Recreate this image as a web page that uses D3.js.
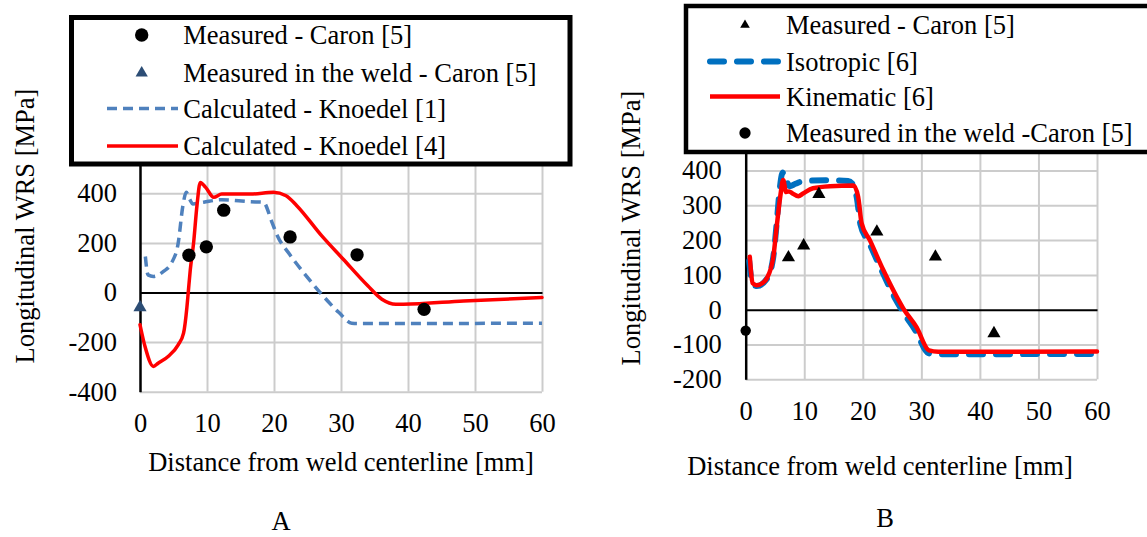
<!DOCTYPE html>
<html>
<head>
<meta charset="utf-8">
<script src="https://cdn.jsdelivr.net/npm/d3@7"></script>
<style>
  body { margin: 0; background: #fff; }
  svg text { font-family: "Liberation Serif", "Times New Roman", serif; fill: #000; }
</style>
</head>
<body>
<svg id="chart" width="1147" height="537"></svg>
<script>
// ---- data (mm, MPa) ----
const distTicks = [0, 10, 20, 30, 40, 50, 60];
const leftStressTicks = [-400, -200, 0, 200, 400];
const rightStressTicks = [-200, -100, 0, 100, 200, 300, 400];

const caronDist = [7.3, 9.9, 12.5, 22.4, 32.4, 42.4];
const caronStress = [150, 184, 332, 224, 152, -68];

const weldDist = [0];
const weldStress = [-60];

// panel A
const knoedel1Dist = [0.8, 1.2, 2.0, 3.5, 4.7, 5.7, 6.4, 6.9, 7.4, 7.9, 9.5, 12.2, 16.5, 18.4, 19.7, 20.5, 22.3, 24.4, 27.1, 29.7, 31.6, 32.4, 60];
const knoedel1Stress = [145, 71, 65, 85, 119, 199, 350, 404, 377, 357, 364, 374, 366, 364, 283, 229, 155, 81, -7, -81, -124, -125, -124];

const knoedel4Dist = [0, 0.75, 2.0, 2.7, 4.2, 5.7, 6.5, 7.0, 7.2, 7.5, 8.0, 8.5, 9.0, 9.8, 11.0, 12.2, 16.5, 19.9, 21.8, 23.4, 27.1, 30.3, 34.0, 36.1, 38.2, 39.3, 48.3, 60];
const knoedel4Stress = [-130, -218, -298, -285, -258, -211, -164, -60, 0, 90, 200, 350, 444, 424, 384, 397, 397, 404, 390, 350, 229, 135, 27, -27, -47, -47, -34, -20];

// panel B
const isoDist = [0.6, 1.2, 1.9, 3.6, 4.7, 5.3, 5.8, 6.2, 6.5, 7.0, 7.5, 8.5, 10, 14, 17.5, 18.4, 19.0, 19.6, 21.0, 23.3, 25.6, 27.0, 29.0, 31.2, 32.5, 60];
const isoStress = [140, 72, 68, 88, 150, 250, 345, 390, 395, 370, 355, 362, 370, 372, 370, 358, 320, 245, 195, 110, 30, -10, -60, -125, -128, -127];

const kinDist = [0.7, 0.9, 1.2, 1.9, 3.0, 3.6, 4.7, 5.3, 5.9, 6.4, 6.9, 7.4, 8.0, 9.0, 9.8, 11.5, 14.4, 18.4, 19.2, 19.8, 21.2, 23.5, 25.8, 26.9, 29.2, 31.3, 32.9, 60];
const kinStress = [152, 110, 76, 70, 78, 90, 150, 240, 325, 373, 338, 340, 334, 326, 334, 349, 355, 357, 325, 248, 200, 114, 37, 4, -51, -117, -121, -120];

const leftLegend = ["Measured - Caron [5]", "Measured in the weld - Caron [5]", "Calculated - Knoedel [1]", "Calculated - Knoedel [4]"];
const rightLegend = ["Measured - Caron [5]", "Isotropic [6]", "Kinematic [6]", "Measured in the weld -Caron [5]"];

const xTitle = "Distance from weld centerline [mm]";
const yTitle = "Longitudinal WRS [MPa]";

// ---- drawing ----
const svg = d3.select("#chart");
const fs = 26.5;
const serif = "Liberation Serif, Times New Roman, serif";
const gridColor = "#cccccc";
const plain = d => `${d}`; // keep hyphen-minus like the original

function drawFrame(o) {
  const g = svg.append("g");
  const [x0, x1] = o.x.range();
  const [yb, yt] = o.y.range();

  // grid
  g.append("g")
    .attr("transform", `translate(0,${yb})`)
    .call(d3.axisBottom(o.x).tickValues(distTicks.filter(d => d !== 0)).tickSize(-(yb - yt)).tickFormat(""))
    .call(s => s.select(".domain").remove())
    .selectAll("line").attr("stroke", gridColor).attr("stroke-width", 2);
  g.append("g")
    .attr("transform", `translate(${x0},0)`)
    .call(d3.axisLeft(o.y).tickValues(o.yTicks.filter(d => d !== 0)).tickSize(-(x1 - x0)).tickFormat(""))
    .call(s => s.select(".domain").remove())
    .selectAll("line").attr("stroke", gridColor).attr("stroke-width", 2);

  // zero line and y axis
  g.append("g")
    .attr("transform", `translate(0,${o.y(0)})`)
    .call(d3.axisBottom(o.x).tickValues([]).tickSizeOuter(0))
    .select(".domain").attr("stroke", "#000").attr("stroke-width", 2);
  g.append("g")
    .attr("transform", `translate(${x0},0)`)
    .call(d3.axisLeft(o.y).tickValues([]).tickSizeOuter(0))
    .select(".domain").attr("stroke", "#000").attr("stroke-width", 2.5);

  // tick labels
  g.append("g")
    .attr("transform", `translate(${x0},0)`)
    .call(d3.axisLeft(o.y).tickValues(o.yTicks).tickFormat(plain).tickSize(0).tickPadding(o.yPad))
    .attr("font-size", fs).attr("font-family", serif)
    .call(s => s.select(".domain").remove());
  g.append("g")
    .attr("transform", `translate(0,${yb})`)
    .call(d3.axisBottom(o.x).tickValues(distTicks).tickFormat(plain).tickSize(0).tickPadding(o.xPad))
    .attr("font-size", fs).attr("font-family", serif)
    .call(s => s.select(".domain").remove());

  // titles
  g.append("text")
    .attr("transform", `translate(${o.yTitle[0]},${o.yTitle[1]}) rotate(-90)`)
    .attr("text-anchor", "middle").attr("dominant-baseline", "central")
    .attr("font-size", fs).text(yTitle);
  g.append("text")
    .attr("x", o.xTitle[0]).attr("y", o.xTitle[1])
    .attr("text-anchor", "middle").attr("dominant-baseline", "central")
    .attr("font-size", fs).text(xTitle);
  g.append("text")
    .attr("x", o.tag[0]).attr("y", o.tag[1])
    .attr("text-anchor", "middle").attr("dominant-baseline", "central")
    .attr("font-size", fs).text(o.tagText);
  return g;
}

function drawLine(o, dist, stress, style) {
  const line = d3.line()
    .x(d => o.x(d[0]))
    .y(d => o.y(d[1]))
    .curve(d3.curveMonotoneX);
  svg.append("path")
    .datum(d3.zip(dist, stress))
    .attr("d", line)
    .attr("fill", "none")
    .attr("stroke", style.color)
    .attr("stroke-width", style.width)
    .attr("stroke-dasharray", style.dash || null)
    .attr("stroke-linecap", style.cap || "butt")
    .attr("stroke-linejoin", "round");
}

function drawPoints(o, dist, stress, style) {
  const sym = d3.symbol().type(style.type).size(style.size);
  svg.append("g")
    .selectAll("path")
    .data(d3.zip(dist, stress))
    .join("path")
    .attr("d", sym)
    .attr("transform", d => `translate(${o.x(d[0])},${o.y(d[1])})`)
    .attr("fill", style.color);
}

function drawLegend(box, rows, labels, styles) {
  const g = svg.append("g");
  g.append("rect")
    .attr("x", box.x).attr("y", box.y).attr("width", box.w).attr("height", box.h)
    .attr("fill", "#fff").attr("stroke", "#000").attr("stroke-width", box.sw);
  labels.forEach((label, i) => {
    const s = styles[i];
    const y = rows.y[i];
    if (s.kind === "line") {
      g.append("line")
        .attr("x1", rows.lx[0]).attr("x2", rows.lx[1]).attr("y1", y).attr("y2", y)
        .attr("stroke", s.color).attr("stroke-width", s.width)
        .attr("stroke-dasharray", s.dash || null)
        .attr("stroke-linecap", s.cap || "butt");
    } else {
      g.append("path")
        .attr("d", d3.symbol().type(s.type).size(s.size))
        .attr("transform", `translate(${rows.mx},${y})`)
        .attr("fill", s.color);
    }
    g.append("text")
      .attr("x", rows.tx).attr("y", y)
      .attr("dominant-baseline", "central")
      .attr("font-size", fs).text(label);
  });
}

// ---- panel A ----
const A = {
  x: d3.scaleLinear([0, 60], [140, 542]),
  y: d3.scaleLinear([-400, 600], [391.7, 143.7]),
  yTicks: leftStressTicks, yPad: 23, xPad: 21,
  yTitle: [25, 226], xTitle: [341, 462], tag: [281, 521], tagText: "A"
};
drawFrame(A);
const styleK1 = { color: "#4f81bd", width: 3.5, dash: "10,6" };
const styleK4 = { color: "#ff0000", width: 3.5, cap: "round" };
const styleCaronA = { type: d3.symbolCircle, size: 140, color: "#000" };
const styleWeldA = { type: d3.symbolTriangle, size: 75, color: "#2c4d75" };
drawLine(A, knoedel1Dist, knoedel1Stress, styleK1);
drawLine(A, knoedel4Dist, knoedel4Stress, styleK4);
drawPoints(A, caronDist, caronStress, styleCaronA);
drawPoints(A, weldDist, weldStress, styleWeldA);
drawLegend(
  { x: 71.5, y: 17.5, w: 498.5, h: 146.5, sw: 5 },
  { y: [35, 73, 108.5, 146], mx: 141.7, lx: [107, 178], tx: 183.3 },
  leftLegend,
  [Object.assign({ kind: "sym" }, styleCaronA), Object.assign({ kind: "sym" }, styleWeldA, { size: 65 }),
   Object.assign({ kind: "line" }, styleK1), Object.assign({ kind: "line" }, styleK4, { cap: "butt" })]
);

// ---- panel B ----
const B = {
  x: d3.scaleLinear([0, 60], [745.7, 1097]),
  y: d3.scaleLinear([-200, 450], [379.3, 153.1]),
  yTicks: rightStressTicks, yPad: 24, xPad: 22,
  yTitle: [631, 228], xTitle: [880, 466], tag: [885, 518], tagText: "B"
};
drawFrame(B);
const styleIso = { color: "#0070c0", width: 6, dash: "14,13", cap: "round" };
const styleKin = { color: "#ff0000", width: 4.5, cap: "round" };
const styleCaronB = { type: d3.symbolTriangle, size: 75, color: "#000" };
const styleWeldB = { type: d3.symbolCircle, size: 85, color: "#000" };
drawLine(B, isoDist, isoStress, styleIso);
drawLine(B, kinDist, kinStress, styleKin);
drawPoints(B, caronDist, caronStress, styleCaronB);
drawPoints(B, weldDist, weldStress, styleWeldB);
drawLegend(
  { x: 686, y: 6, w: 480, h: 146, sw: 4.5 },
  { y: [25, 61.5, 96.5, 133], mx: 745, lx: [710, 780], tx: 786 },
  rightLegend,
  [Object.assign({ kind: "sym" }, styleCaronB, { size: 40 }), Object.assign({ kind: "line" }, styleIso),
   Object.assign({ kind: "line" }, styleKin, { cap: "butt" }), Object.assign({ kind: "sym" }, styleWeldB, { size: 100 })]
);
</script>
</body>
</html>
